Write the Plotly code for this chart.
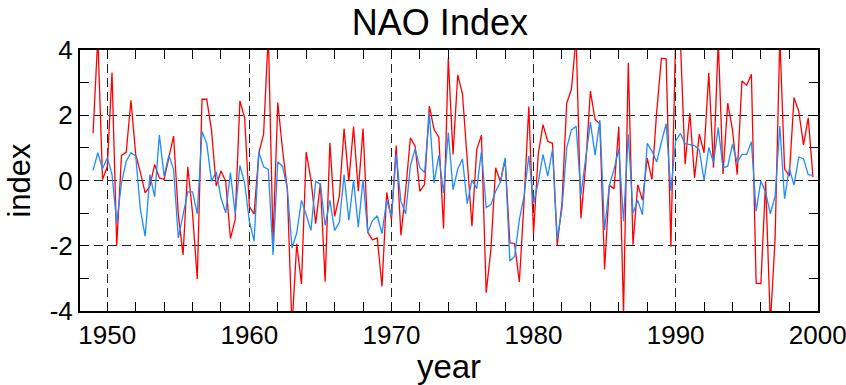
import plotly.graph_objects as go

# time axis: three values per year starting 1949.0
n_points = 153
start_year = 1949.0
years = [start_year + i / 3 for i in range(n_points)]

red_values = [
    1.45, 4.4, 0.03, 0.42, 3.31, -1.99, 0.77, 0.87, 2.46, 0.80,
    0.24, -0.38, -0.17, 0.49, 0.08, 0.03, 0.70, 1.36, -1.05, -2.28,
    0.42, -1.0, -3.02, 2.49, 2.49, 1.55, -0.17, 0.29, -0.02, -1.78,
    -1.20, 2.44, 1.93, -0.8, -1.03, 0.85, 1.41, 4.5, -1.9, 2.39,
    0.95, -0.25, -4.5, -1.94, -3.17, 0.87, 0.03, -1.32, -0.09, -3.10,
    1.16, -1.10, -0.48, 1.59, -0.02, 1.65, -0.33, 1.59, -1.59, -1.82,
    -1.76, -3.25, -0.36, -1.20, 1.07, -1.68, -0.3, 1.31, 1.05, -0.33,
    -0.12, 2.28, 1.56, 1.33, -1.47, 3.75, 0.80, 3.24, 2.65, 0.6,
    -1.40, 0.95, 1.39, -3.44, -2.11, 0.39, -0.04, 0.64, -1.91, -1.93,
    -3.11, -0.63, 2.27, -1.63, 0.82, 1.71, 1.20, 1.14, -1.99, -0.7,
    2.37, 2.80, 4.4, -1.16, 0.45, 2.74, 1.87, 1.74, -2.73, -0.15,
    -0.25, 1.65, -4.05, 3.61, -1.97, -0.13, -0.6, 0.69, 0.03, 2.1,
    3.75, 3.73, -2.03, 4.4, 4.3, 0.50, 2.07, 0.08, 1.42, 0.85,
    3.30, 0.39, 4.3, 0.2, 2.37, 1.55, 0.18, 3.05, 2.92, 3.26,
    -3.15, -3.16, -0.02, -4.4, -1.79, 4.4, 0.36, 0.13, 2.54, 2.12,
    1.09, 1.92, 0.1,
]

blue_values = [
    0.31, 0.85, 0.36, 0.70, 0.18, -1.30, -0.07, 0.59, 0.85, 0.75,
    -0.89, -1.71, 0.18, -0.50, 1.39, 0.13, 0.77, 0.34, -1.76, -1.05,
    -0.35, -0.35, -1.02, 1.50, 1.14, -0.02, 0.27, -0.53, -0.99, 0.24,
    -1.02, 0.46, -0.07, -1.25, -1.86, 0.87, 0.42, 0.34, -2.28, 0.57,
    0.44, -0.23, -2.07, -1.61, -0.61, -1.05, -1.53, -0.02, -0.12, -1.38,
    -0.61, -1.53, -1.28, 0.18, -1.22, 0.01, -1.43, 0.03, -1.59, -1.23,
    -1.08, -1.63, -0.61, -1.1, 0.80, -0.64, -1.02, 0.46, 0.97, 0.39,
    0.24, 2.06, -0.07, 0.77, -0.38, 1.47, -0.28, 0.35, 0.66, -0.71,
    0.02, -0.25, 0.89, -0.83, -0.74, -0.33, -0.05, 0.69, -2.47, -2.33,
    -1.2, -0.48, 0.76, -0.7, -0.05, 0.80, 0.13, 0.95, -1.80, -0.87,
    1.0, 1.55, 1.66, -0.45, 0.75, 1.79, 0.78, 1.85, -1.52, -0.16,
    0.35, 0.97, -1.25, 1.42, -1.0, -0.61, -1.05, 1.14, 0.9, 0.57,
    1.18, 1.74, -0.32, 1.21, 1.44, 1.13, 1.10, 1.07, 0.94, 0.0,
    1.01, 0.56, 1.62, 0.39, 0.44, 1.11, 0.56, 0.80, 0.80, 1.19,
    -0.94, -0.02, -0.36, -1.02, -0.48, 1.67, -0.56, 0.36, -0.14, 0.72,
    0.67, 0.18, 0.16,
]

x_tick_vals = [1950, 1960, 1970, 1980, 1990, 2000]
x_tick_text = ["1950", "1960", "1970", "1980", "1990", "2000"]
y_tick_vals = [-4, -2, 0, 2, 4]
y_tick_text = ["-4", "-2", "0", "2", "4"]

font_main = "Liberation Sans, Arial, sans-serif"
font_ticks = "Liberation Sans Narrow, Arial Narrow, Liberation Sans, sans-serif"

fig = go.Figure()
fig.add_trace(go.Scatter(x=years, y=red_values, mode="lines",
                         line=dict(color="#ff0000", width=1.3),
                         showlegend=False, hoverinfo="skip"))
fig.add_trace(go.Scatter(x=years, y=blue_values, mode="lines",
                         line=dict(color="#1e8cff", width=1.3),
                         showlegend=False, hoverinfo="skip"))

axis_common = dict(
    showline=True, linecolor="black", linewidth=2, mirror="allticks",
    ticks="inside", ticklen=9, tickwidth=1, tickcolor="black",
    showgrid=True, gridcolor="#222222", gridwidth=1.3, griddash="9px,5px",
    zeroline=False, automargin=False, ticklabeloverflow="allow",
    tickfont=dict(family=font_ticks, size=26, color="black"),
)

fig.update_layout(
    width=846, height=385,
    margin=dict(l=80, r=28, t=50, b=74),
    paper_bgcolor="white", plot_bgcolor="white",
    title=dict(text="NAO Index", x=0.52, xanchor="center", xref="container",
               y=1 - 22 / 385, yanchor="middle", yref="container",
               font=dict(family=font_main, size=36, color="black")),
    xaxis=dict(axis_common, range=[1948.08, 2000.02],
               tickvals=x_tick_vals, ticktext=x_tick_text,
               minor=dict(dtick=2, tick0=1950, ticks="inside", ticklen=9,
                          tickcolor="black", showgrid=False),
               title=dict(text="year", standoff=14,
                          font=dict(family=font_main, size=33, color="black"))),
    yaxis=dict(axis_common, range=[-4, 4],
               tickvals=y_tick_vals, ticktext=y_tick_text,
               minor=dict(dtick=1, tick0=0, ticks="inside", ticklen=9,
                          tickcolor="black", showgrid=False),
               title=dict(text="index", standoff=10,
                          font=dict(family=font_main, size=31, color="black"))),
)

fig.write_html("out.html")
